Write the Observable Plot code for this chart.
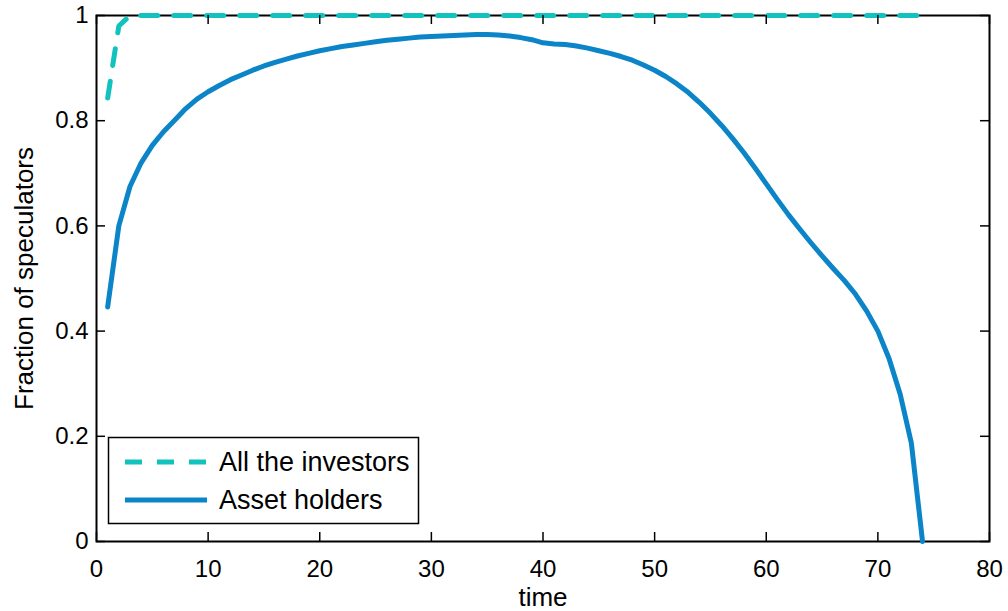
<!DOCTYPE html>
<html>
<head>
<meta charset="utf-8">
<script src="https://cdn.jsdelivr.net/npm/d3@7"></script>
<script src="https://cdn.jsdelivr.net/npm/@observablehq/plot@0.6"></script>
<style>
  html, body { margin: 0; padding: 0; background: #fff; }
  #wrap { position: relative; width: 1008px; height: 611px; font-family: "Liberation Sans", Arial, sans-serif; }
  #legend { position: absolute; left: 0; top: 0; pointer-events: none; }
</style>
</head>
<body>
<div id="wrap"></div>
<script>
// ---- data ----
const time = [1,2,3,4,5,6,7,8,9,10,11,12,13,14,15,16,17,18,19,20,21,22,23,24,25,26,27,28,29,30,31,32,33,34,35,36,37,38,39,40,41,42,43,44,45,46,47,48,49,50,51,52,53,54,55,56,57,58,59,60,61,62,63,64,65,66,67,68,69,70,71,72,73,74];
const allInvestors = [0.843,0.980,1,1,1,1,1,1,1,1,1,1,1,1,1,1,1,1,1,1,1,1,1,1,1,1,1,1,1,1,1,1,1,1,1,1,1,1,1,1,1,1,1,1,1,1,1,1,1,1,1,1,1,1,1,1,1,1,1,1,1,1,1,1,1,1,1,1,1,1,1,1,1,1];
const assetHolders = [0.446,0.600,0.675,0.720,0.753,0.779,0.801,0.823,0.841,0.855,0.867,0.878,0.887,0.896,0.904,0.911,0.917,0.923,0.928,0.933,0.937,0.941,0.944,0.947,0.950,0.953,0.955,0.957,0.959,0.960,0.961,0.962,0.963,0.964,0.964,0.963,0.961,0.958,0.954,0.948,0.946,0.945,0.942,0.938,0.933,0.928,0.922,0.915,0.906,0.896,0.884,0.870,0.854,0.835,0.814,0.791,0.766,0.739,0.710,0.680,0.650,0.621,0.594,0.568,0.543,0.519,0.496,0.470,0.438,0.400,0.348,0.280,0.187,0.000];
const xTicks = [0,10,20,30,40,50,60,70,80];
const yTicks = [0,0.2,0.4,0.6,0.8,1];
const seriesNames = ["All the investors", "Asset holders"];
const xLabel = "time";
const yLabel = "Fraction of speculators";

const investorsData = time.map((t, i) => ({t, v: allInvestors[i]}));
const holdersData = time.map((t, i) => ({t, v: assetHolders[i]}));

const cyan = "#12c2bf";
const blue = "#0b85c8";
const fmt = d => String(+d.toFixed(1));

const W = 1008, H = 611;
const mL = 96, mR = 19, mT = 15, mB = 70;
const fw = W - mL - mR, fh = H - mT - mB;
const tk = 9;
const tickColor = "#000";

const chart = Plot.plot({
  width: W,
  height: H,
  marginLeft: mL,
  marginRight: mR,
  marginTop: mT,
  marginBottom: mB,
  style: {fontFamily: '"Liberation Sans", Arial, sans-serif', color: "#000", background: "#fff", overflow: "visible"},
  x: {domain: [0, 80]},
  y: {domain: [0, 1]},
  marks: [
    Plot.frame({stroke: "#000", strokeWidth: 2}),
    Plot.lineY(investorsData, {x: "t", y: "v", stroke: cyan, strokeWidth: 5, strokeDasharray: "17,16"}),
    Plot.lineY(holdersData, {x: "t", y: "v", stroke: blue, strokeWidth: 5}),
    // inward tick marks: bottom, top, left, right
    Plot.ruleX(xTicks, {stroke: tickColor, strokeWidth: 1.5, insetTop: fh - tk}),
    Plot.ruleX(xTicks, {stroke: tickColor, strokeWidth: 1.5, insetBottom: fh - tk}),
    Plot.ruleY(yTicks, {stroke: tickColor, strokeWidth: 1.5, insetRight: fw - tk}),
    Plot.ruleY(yTicks, {stroke: tickColor, strokeWidth: 1.5, insetLeft: fw - tk}),
    // tick labels
    Plot.axisX({ticks: xTicks, tickSize: 0, tickPadding: 18, tickFormat: fmt, label: null, fontSize: 24}),
    Plot.axisY({ticks: yTicks, tickSize: 0, tickPadding: 8, tickFormat: fmt, label: null, fontSize: 24}),
    // axis titles
    Plot.text([xLabel], {frameAnchor: "bottom", dy: 56, lineAnchor: "middle", fontSize: 26, fill: "#000"}),
    Plot.text([yLabel], {frameAnchor: "left", dx: -72, rotate: -90, lineAnchor: "middle", textAnchor: "middle", fontSize: 26, fill: "#000"})
  ]
});
document.getElementById("wrap").appendChild(chart);

// ---- legend ----
const leg = d3.select("#wrap").append("svg")
  .attr("id", "legend").attr("width", W).attr("height", H);
leg.append("rect").attr("x", 108.5).attr("y", 437.5).attr("width", 310).attr("height", 86)
  .attr("fill", "#fff").attr("stroke", "#000").attr("stroke-width", 1.5);
const rows = [
  {name: seriesNames[0], color: cyan, dash: "17,15", y: 462},
  {name: seriesNames[1], color: blue, dash: null, y: 500}
];
rows.forEach(r => {
  leg.append("line").attr("x1", 125).attr("x2", 207).attr("y1", r.y).attr("y2", r.y)
    .attr("stroke", r.color).attr("stroke-width", 5).attr("stroke-dasharray", r.dash);
  leg.append("text").attr("x", 219).attr("y", r.y).attr("dy", "0.35em")
    .attr("font-size", 27).attr("font-family", '"Liberation Sans", Arial, sans-serif')
    .attr("fill", "#000").text(r.name);
});
</script>
</body>
</html>
